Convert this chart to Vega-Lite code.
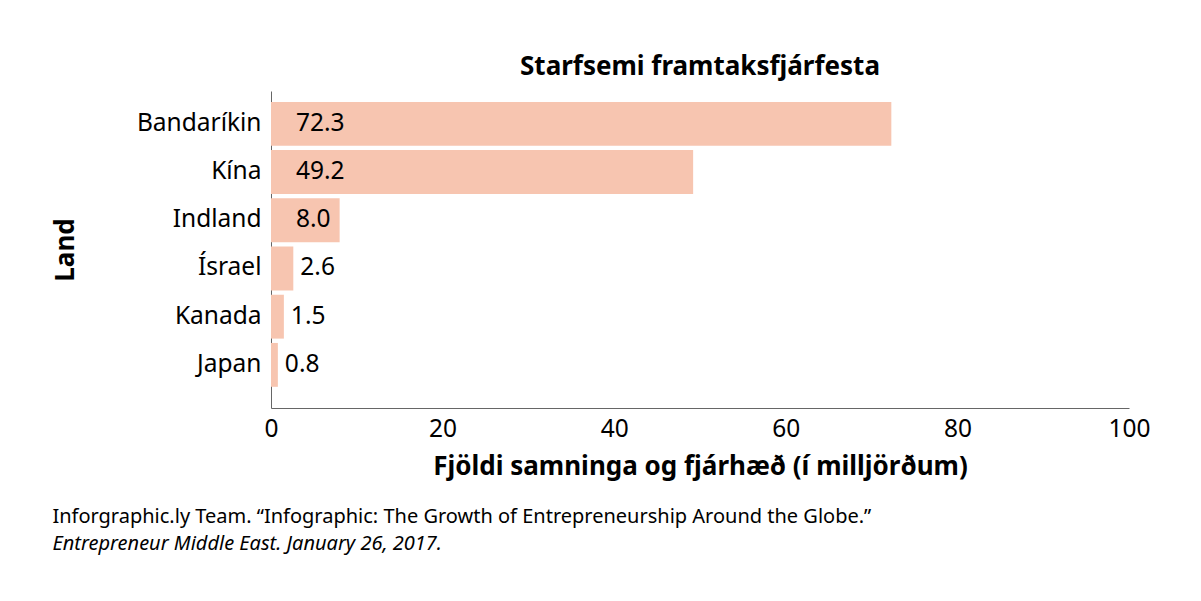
{
  "$schema": "https://vega.github.io/schema/vega-lite/v6.json",
  "background": "white",
  "padding": {"left": 52, "top": 54, "right": 20, "bottom": 10},
  "title": {
    "text": "Inforgraphic.ly Team. “Infographic: The Growth of Entrepreneurship Around the Globe.”",
    "subtitle": "Entrepreneur Middle East. January 26, 2017.",
    "orient": "bottom",
    "anchor": "start",
    "font": "Noto Sans",
    "fontSize": 20,
    "fontWeight": "normal",
    "color": "black",
    "subtitleFont": "Noto Sans",
    "subtitleFontSize": 20,
    "subtitleFontStyle": "italic",
    "subtitleColor": "black",
    "subtitlePadding": 7,
    "offset": 27
  },
  "vconcat": [
    {
      "width": 858,
      "height": 317,
      "title": {
        "text": "Starfsemi framtaksfjárfesta",
        "font": "Noto Sans",
        "fontSize": 26,
        "fontWeight": "bold",
        "color": "black",
        "anchor": "middle",
        "offset": 11
      },
      "data": {
        "values": [
          {"land": "Bandaríkin", "value": 72.3},
          {"land": "Kína", "value": 49.2},
          {"land": "Indland", "value": 8.0},
          {"land": "Ísrael", "value": 2.6},
          {"land": "Kanada", "value": 1.5},
          {"land": "Japan", "value": 0.8}
        ]
      },
      "encoding": {
        "y": {
          "field": "land",
          "type": "nominal",
          "sort": null,
          "title": "Land",
          "scale": {"paddingInner": 0.09, "paddingOuter": 0.333, "align": 0.34},
          "axis": {
            "ticks": false,
            "domainColor": "#666666",
            "labelFont": "Noto Sans",
            "labelFontSize": 24.5,
            "labelColor": "black",
            "labelPadding": 10,
            "titleFont": "Noto Sans",
            "titleFontSize": 26,
            "titleFontWeight": "bold",
            "titleColor": "black",
            "titlePadding": 58
          }
        }
      },
      "layer": [
        {
          "mark": {"type": "bar", "color": "#f7c5b0"},
          "encoding": {
            "x": {
              "field": "value",
              "type": "quantitative",
              "title": "Fjöldi samninga og fjárhæð (í milljörðum)",
              "scale": {"domain": [0, 100]},
              "axis": {
                "values": [0, 20, 40, 60, 80, 100],
                "grid": false,
                "ticks": false,
                "domainColor": "#666666",
                "labelFont": "Noto Sans",
                "labelFontSize": 24.5,
                "labelColor": "black",
                "labelPadding": 9,
                "labelFlush": false,
                "titleFont": "Noto Sans",
                "titleFontSize": 26,
                "titleFontWeight": "bold",
                "titleColor": "black",
                "titlePadding": 13
              }
            }
          }
        },
        {
          "transform": [{"filter": "datum.value >= 5"}],
          "mark": {"type": "text", "align": "left", "baseline": "middle", "dx": 25, "font": "Noto Sans", "fontSize": 24.5, "color": "black"},
          "encoding": {
            "x": {"datum": 0, "type": "quantitative"},
            "text": {"field": "value", "type": "quantitative", "format": ".1f"}
          }
        },
        {
          "transform": [{"filter": "datum.value < 5"}],
          "mark": {"type": "text", "align": "left", "baseline": "middle", "dx": 7, "font": "Noto Sans", "fontSize": 24.5, "color": "black"},
          "encoding": {
            "x": {"field": "value", "type": "quantitative"},
            "text": {"field": "value", "type": "quantitative", "format": ".1f"}
          }
        }
      ]
    }
  ],
  "config": {
    "view": {"stroke": null}
  }
}
